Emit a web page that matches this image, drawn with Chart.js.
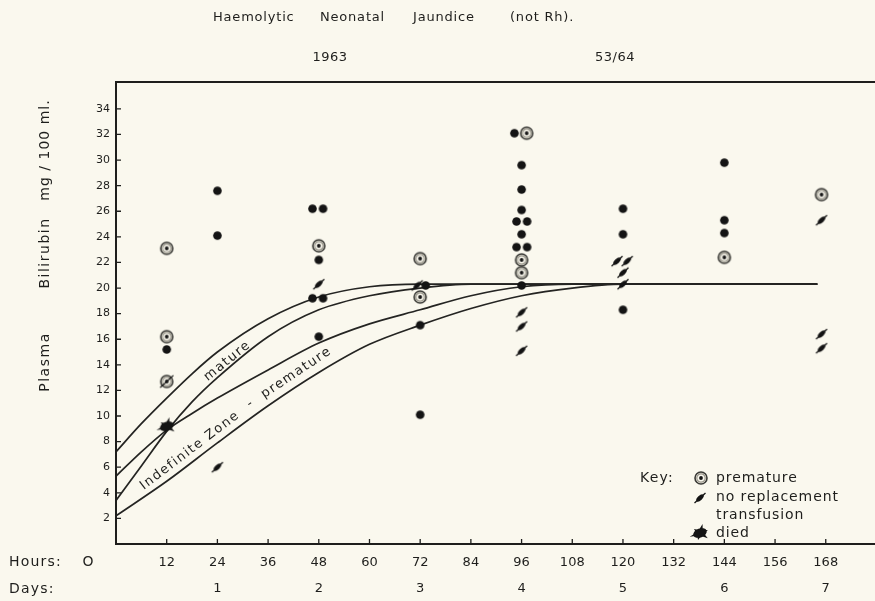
<!DOCTYPE html>
<html><head><meta charset="utf-8">
<script src="https://cdn.jsdelivr.net/npm/chart.js@4/dist/chart.umd.min.js"></script>
<style>html,body{margin:0;padding:0;background:#FAF8EE;}#wrap{width:875px;height:601px;position:relative;}</style>
</head><body><div id="wrap"><canvas id="c"></canvas></div>
<script>
// ---------- data ----------
const hourTicks = [12,24,36,48,60,72,84,96,108,120,132,144,156,168];
const dayHours  = [24,48,72,96,120,144,168];
const dayLabels = ['1','2','3','4','5','6','7'];
const valueTicks = [2,4,6,8,10,12,14,16,18,20,22,24,26,28,30,32,34];

// zone boundary curves [hours, mg/100ml]
const matureUpper = [[0,7.2],[6,9.4],[12,11.4],[18,13.3],[24,15.0],[36,17.6],[48,19.3],[60,20.1],[72,20.3],[96,20.3],[120,20.3],[144,20.3],[166,20.3]];
const matureLower = [[0,3.4],[6,6.1],[12,8.8],[18,11.1],[24,13.0],[36,16.2],[48,18.3],[60,19.4],[72,20.0],[84,20.3],[120,20.3],[166,20.3]];
const prematureUpper = [[0,5.3],[6,7.2],[12,8.9],[18,10.2],[24,11.4],[36,13.6],[48,15.7],[60,17.2],[72,18.3],[84,19.4],[96,20.1],[108,20.3],[166,20.3]];
const prematureLower = [[0,2.2],[12,4.9],[24,7.9],[36,10.8],[48,13.4],[60,15.6],[72,17.1],[84,18.4],[96,19.4],[108,20.0],[120,20.3],[166,20.3]];

// cases
const matureCases = [[12,15.2],[24,27.6],[24,24.1],[46.5,26.2],[49,26.2],[48,22.2],[46.5,19.2],[49,19.2],[48,16.2],
  [73.3,20.2],[72,17.1],[72,10.1],
  [94.3,32.1],[96,29.6],[96,27.7],[96,26.1],[94.8,25.2],[97.3,25.2],[96,24.2],[94.8,23.2],[97.3,23.2],[96,20.2],
  [120,26.2],[120,24.2],[120,18.3],[144,29.8],[144,25.3],[144,24.3]];
const prematureCases = [[12,23.1],[12,16.2],[48,23.3],[72,22.3],[72,19.3],[97.2,32.1],[96,22.2],[96,21.2],[144,22.4],[167,27.3]];
const noReplacementCases = [[24,6.0],[48,20.3],[71.3,20.2],[96,18.1],[96,17.0],[96,15.1],[118.6,22.1],[121,22.1],[120,21.2],[120,20.3],[167,25.3],[167,16.4],[167,15.3]];
const prematureNoReplacementCases = [[12,12.7]];
const diedCases = [[12,9.2]];

// ---------- marker images ----------
const INK = '#141414';
function mk(w, h, fn){ const c=document.createElement('canvas'); c.width=w; c.height=h; const x=c.getContext('2d'); x.translate(w/2,h/2); fn(x); return c; }
const dotImg = mk(11,11,x=>{x.fillStyle=INK;x.beginPath();x.arc(0,0,4.3,0,Math.PI*2);x.fill();});
function ring(x){x.strokeStyle='#3a3a36';x.lineWidth=1.6;x.beginPath();x.arc(0,0,6,0,Math.PI*2);x.stroke();
  x.strokeStyle='#9a978c';x.lineWidth=1.2;x.beginPath();x.arc(0,0,4.2,0,Math.PI*2);x.stroke();
  x.fillStyle=INK;x.beginPath();x.arc(0,0,1.9,0,Math.PI*2);x.fill();}
const premImg = mk(16,16,ring);
function slash(x,len){x.save();x.rotate(-Math.PI/4.2);x.fillStyle=INK;x.beginPath();x.ellipse(0,0,4.6,2.3,0,0,Math.PI*2);x.fill();
  x.strokeStyle=INK;x.lineWidth=1.3;x.beginPath();x.moveTo(-len,0);x.lineTo(len,0);x.stroke();x.restore();}
const noRepImg = mk(18,18,x=>slash(x,7.5));
const premNoRepImg = mk(20,20,x=>{ring(x);x.save();x.rotate(-Math.PI/4.2);x.strokeStyle=INK;x.lineWidth=1.3;x.beginPath();x.moveTo(-9,0);x.lineTo(9,0);x.stroke();x.restore();});
const diedImg = mk(26,26,x=>{x.fillStyle=INK;x.rotate(-0.35);x.beginPath();
  const n=6;for(let i=0;i<n*2;i++){const r=i%2?4:(i%4?11:8.5);const a=i*Math.PI/n;x.lineTo(Math.cos(a)*r,Math.sin(a)*r*0.8);}x.closePath();x.fill();
  x.beginPath();x.ellipse(0,0,7,4.5,0,0,Math.PI*2);x.fill();});

const toXY = arr => arr.map(p=>({x:p[0],y:p[1]}));
function pts(arr,img){return {data:toXY(arr),showLine:false,pointStyle:img,pointRadius:6,pointHoverRadius:6};}
function curve(arr){return {data:toXY(arr),showLine:true,pointRadius:0,borderColor:'#242422',borderWidth:1.7,cubicInterpolationMode:'monotone',fill:false};}

const FONT = "'DejaVu Sans', sans-serif";
function txt(ctx,s,x,y,o={}){ctx.save();ctx.font=(o.weight||'normal')+' '+(o.size||14)+'px '+FONT;ctx.fillStyle=o.color||'#1e1e1c';
  ctx.textAlign=o.align||'left';ctx.textBaseline='middle';ctx.letterSpacing=(o.ls||0)+'px';ctx.translate(x,y);if(o.rot)ctx.rotate(o.rot);ctx.fillText(s,0,0);ctx.restore();}

const deco = {id:'deco',
  beforeDraw(chart){const {ctx}=chart;ctx.save();ctx.fillStyle='#FAF8EE';ctx.fillRect(0,0,chart.width,chart.height);ctx.restore();},
  afterDraw(chart){
    const {ctx,chartArea:a,scales:{x,y}}=chart;
    ctx.save();ctx.strokeStyle='#1e1e1c';ctx.lineWidth=2;ctx.beginPath();
    ctx.moveTo(chart.width,a.top);ctx.lineTo(a.left,a.top);ctx.lineTo(a.left,a.bottom);ctx.lineTo(chart.width,a.bottom);ctx.stroke();
    ctx.lineWidth=1.3;ctx.beginPath();
    valueTicks.forEach(v=>{const py=y.getPixelForValue(v);ctx.moveTo(a.left,py);ctx.lineTo(a.left+5,py);});
    hourTicks.forEach(h=>{const px=x.getPixelForValue(h);ctx.moveTo(px,a.bottom);ctx.lineTo(px,a.bottom-5);});
    ctx.stroke();ctx.restore();
    // titles
    txt(ctx,'Haemolytic',213,18,{size:13,ls:0.8});
    txt(ctx,'Neonatal',320,18,{size:13,ls:0.8});
    txt(ctx,'Jaundice',413,18,{size:13,ls:0.8});
    txt(ctx,'(not Rh).',510,18,{size:13,ls:0.8});
    txt(ctx,'1963',330,58,{align:'center',size:13,ls:0.5});
    txt(ctx,'53/64',615,58,{align:'center',size:13,ls:0.5});
    // y title
    txt(ctx,'Plasma',45,362,{align:'center',ls:1.5,rot:-Math.PI/2});
    txt(ctx,'Bilirubin',45,253,{align:'center',ls:1.5,rot:-Math.PI/2});
    txt(ctx,'mg / 100 ml.',45,150,{align:'center',ls:1,rot:-Math.PI/2});
    // hours/days rows
    txt(ctx,'Hours:',9,562,{ls:1.2});
    txt(ctx,'O',88,562,{align:'center'});
    txt(ctx,'Days:',9,589,{ls:1.2});
    dayHours.forEach((h,i)=>txt(ctx,dayLabels[i],x.getPixelForValue(h),589,{align:'center',size:13}));
    // zone labels
    txt(ctx,'mature',x.getPixelForValue(26.4),y.getPixelForValue(14.3),{align:'center',ls:1.5,size:13,rot:-0.68});
    txt(ctx,'Indefinite Zone',x.getPixelForValue(17.5),y.getPixelForValue(7.3),{align:'center',ls:1.5,size:13,rot:-0.65});
    txt(ctx,'-  premature',x.getPixelForValue(41),y.getPixelForValue(13.0),{align:'center',ls:1.5,size:13,rot:-0.59});
    // key
    txt(ctx,'Key:',640,478,{ls:1.2});
    ctx.drawImage(premImg,701-8,478-8);
    txt(ctx,'premature',716,478,{ls:0.9});
    ctx.drawImage(noRepImg,700-9,498-9);
    txt(ctx,'no replacement',716,497,{ls:0.9});
    txt(ctx,'transfusion',716,515,{ls:0.9});
    ctx.drawImage(diedImg,700-13,533-13);
    txt(ctx,'died',716,533,{ls:0.9});
  }};

new Chart(document.getElementById('c'),{
  type:'scatter',
  data:{datasets:[
    pts(diedCases,diedImg),
    pts(prematureNoReplacementCases,premNoRepImg),
    pts(noReplacementCases,noRepImg),
    pts(prematureCases,premImg),
    pts(matureCases,dotImg),
    curve(matureUpper),curve(matureLower),curve(prematureUpper),curve(prematureLower)
  ]},
  options:{
    responsive:true,maintainAspectRatio:false,devicePixelRatio:1,animation:false,
    layout:{padding:{top:82,right:2,left:0,bottom:0}},
    plugins:{legend:{display:false},tooltip:{enabled:false}},
    scales:{
      x:{type:'linear',min:0,max:178,
        afterBuildTicks:s=>{s.ticks=hourTicks.map(v=>({value:v}));},
        afterFit:s=>{s.height=57;},
        grid:{display:false,drawTicks:false},border:{display:false},
        ticks:{padding:11,maxRotation:0,autoSkip:false,color:'#1e1e1c',font:{family:FONT,size:13},callback:v=>String(v)}},
      y:{min:0,max:36.1,
        afterBuildTicks:s=>{s.ticks=valueTicks.map(v=>({value:v}));},
        afterFit:s=>{s.width=116;},
        grid:{display:false,drawTicks:false},border:{display:false},
        ticks:{padding:6,autoSkip:false,color:'#1e1e1c',font:{family:FONT,size:11},callback:v=>String(v)}}
    }
  },
  plugins:[deco]
});
</script></body></html>
